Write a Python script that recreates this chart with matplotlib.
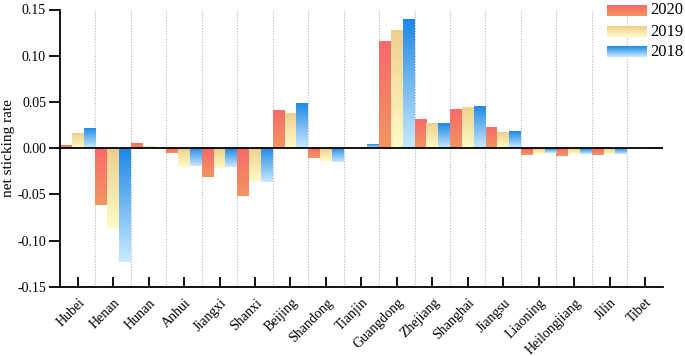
import numpy as np
import matplotlib
matplotlib.use("Agg")
import matplotlib.pyplot as plt
from matplotlib.colors import LinearSegmentedColormap
from matplotlib.transforms import ScaledTranslation

provinces = ["Hubei", "Henan", "Hunan", "Anhui", "Jiangxi", "Shanxi", "Beijing",
             "Shandong", "Tianjin", "Guangdong", "Zhejiang", "Shanghai", "Jiangsu",
             "Liaoning", "Heilongjiang", "Jilin", "Tibet"]
series_names = ["2020", "2019", "2018"]
v2020 = [0.003, -0.062, 0.005, -0.005, -0.031, -0.052, 0.041, -0.011, 0.0,
         0.116, 0.031, 0.042, 0.023, -0.007, -0.009, -0.007, 0.0]
v2019 = [0.016, -0.087, 0.0025, -0.020, -0.021, -0.036, 0.038, -0.014, 0.001,
         0.128, 0.027, 0.045, 0.017, -0.006, -0.006, -0.006, 0.0]
v2018 = [0.022, -0.123, 0.0, -0.0195, -0.020, -0.037, 0.049, -0.0155, 0.004,
         0.140, 0.027, 0.046, 0.018, -0.005, -0.006, -0.006, 0.0015]
yticks = [-0.15, -0.10, -0.05, 0.0, 0.05, 0.10, 0.15]

grad_colors = [("#F96A6C", "#F29560"), ("#EDCF8E", "#FFFBC6"), ("#1E88E6", "#C8EAFF")]

plt.rcParams['font.family'] = ['Liberation Serif', 'DejaVu Serif']

fig = plt.figure(figsize=(6.85, 3.56), dpi=100)
ax = fig.add_axes([60/685, 1-286.7/356, (662.7-60)/685, (286.7-9.5)/356])

x = np.arange(len(provinces))
w = 1/3
grad = np.linspace(0, 1, 64).reshape(-1, 1)
for k, vals in enumerate([v2020, v2019, v2018]):
    cmap = LinearSegmentedColormap.from_list("g%d" % k, list(grad_colors[k]))
    bars = ax.bar(x + (k-1)*w, vals, width=w, facecolor='none', edgecolor='none', zorder=2)
    for rect in bars:
        x0, y0 = rect.get_x(), rect.get_y()
        h = rect.get_height()
        if h == 0:
            continue
        ylo, yhi = min(y0, y0+h), max(y0, y0+h)
        im = ax.imshow(grad, cmap=cmap, extent=[x0, x0+rect.get_width(), ylo, yhi],
                       origin='upper', aspect='auto', zorder=2, interpolation='bilinear')
        im.set_clip_path(rect)

for i in range(len(provinces)-1):
    ax.axvline(i+0.5, color='#b5b5b5', lw=0.8, ls=(0, (1, 1.5)), zorder=1)
ax.axhline(0, color='black', lw=1.3, zorder=3)

ax.set_xlim(-0.5, len(provinces)-0.5)
ax.set_ylim(-0.15, 0.15)
ax.set_yticks(yticks)
ax.set_yticklabels(["%.2f" % t for t in yticks], fontsize=10)
ax.set_xticks(x)
ax.set_xticklabels([])
lab_tr = ax.get_xaxis_transform() + ScaledTranslation(5/100, -14/100, fig.dpi_scale_trans)
for xi, name in zip(x, provinces):
    ax.text(xi, 0, name, transform=lab_tr, rotation=45, ha='right', va='center',
            rotation_mode='anchor', fontsize=10, clip_on=False)
ax.tick_params(axis='y', direction='out', length=8, width=1.3, pad=2)
ax.tick_params(axis='x', direction='in', length=7, width=1.3, pad=2)
for s in ['top', 'right']:
    ax.spines[s].set_visible(False)
for s in ['left', 'bottom']:
    ax.spines[s].set_linewidth(1.3)
fig.text(9/685, 1-148/356, "net sticking rate", rotation=90, fontsize=11,
         ha='center', va='center')
ax.set_xlim(-0.5, len(provinces)-0.5)
ax.set_ylim(-0.15, 0.15)

# legend overlay
lax = fig.add_axes([0, 0, 1, 1], zorder=5)
lax.set_xlim(0, 685)
lax.set_ylim(356, 0)
lax.axis('off')
rows = [10.5, 31.5, 52]
for k, name in enumerate(series_names):
    cmap = LinearSegmentedColormap.from_list("l%d" % k, list(grad_colors[k]))
    yc = rows[k]
    lax.imshow(grad, cmap=cmap, extent=[607, 647, yc+5.3, yc-5.3], origin='upper',
               aspect='auto', interpolation='bilinear')
    lax.text(650, yc, name, fontsize=12, va='center', ha='left')
lax.set_xlim(0, 685)
lax.set_ylim(356, 0)

fig.savefig("out.png", dpi=100)
